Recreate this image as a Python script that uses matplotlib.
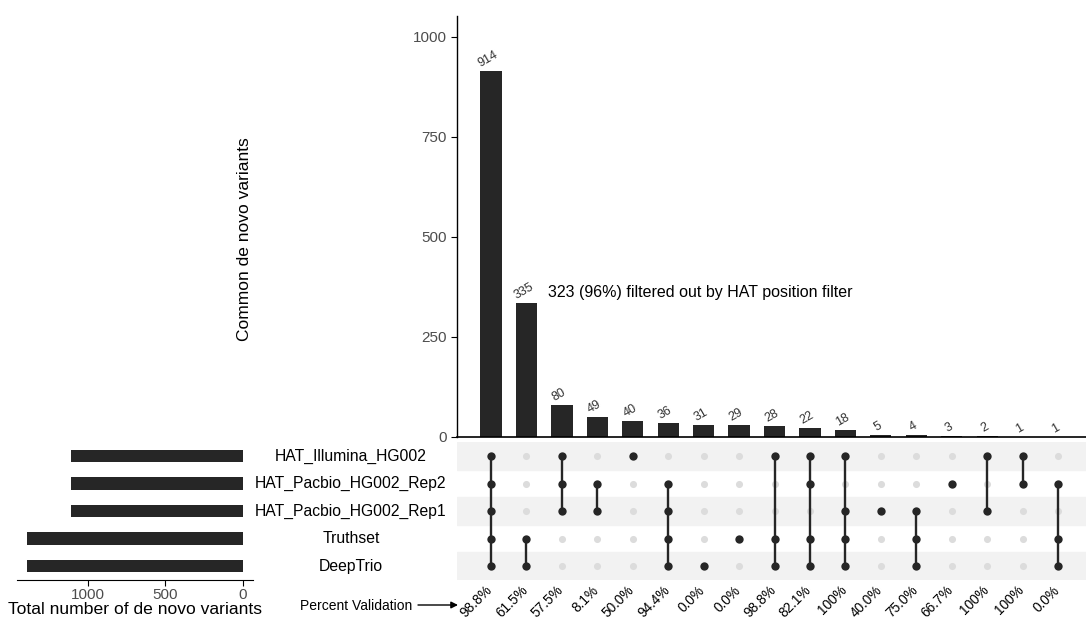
import numpy as np
import matplotlib
matplotlib.use('Agg')
import matplotlib.pyplot as plt
from matplotlib.transforms import blended_transform_factory

plt.rcParams['font.family'] = ['Liberation Sans', 'DejaVu Sans']

# data
set_names = ['HAT_Illumina_HG002', 'HAT_Pacbio_HG002_Rep2', 'HAT_Pacbio_HG002_Rep1',
             'Truthset', 'DeepTrio']
set_totals = [1105, 1106, 1108, 1387, 1389]

inter_counts = [914, 335, 80, 49, 40, 36, 31, 29, 28, 22, 18, 5, 4, 3, 2, 1, 1]
# which sets (row index in set_names) are in each intersection
inter_sets = [
    [0, 1, 2, 3, 4],
    [3, 4],
    [0, 1, 2],
    [1, 2],
    [0],
    [1, 2, 3, 4],
    [4],
    [3],
    [0, 3, 4],
    [0, 1, 3, 4],
    [0, 2, 3, 4],
    [2],
    [2, 3, 4],
    [1],
    [0, 2],
    [0, 1],
    [1, 3, 4],
]
pct_valid = ['98.8%', '61.5%', '57.5%', '8.1%', '50.0%', '94.4%', '0.0%', '0.0%',
             '98.8%', '82.1%', '100%', '40.0%', '75.0%', '66.7%', '100%', '100%', '0.0%']

dark = '#262626'
tickc = '#4d4d4d'
W, H = 1086, 620

fig = plt.figure(figsize=(W / 100, H / 100), dpi=100)

def box(x0, y0, x1, y1):
    # pixel box -> figure fraction [left, bottom, width, height]
    return [x0 / W, 1 - y1 / H, (x1 - x0) / W, (y1 - y0) / H]

ax_bar = fig.add_axes(box(457, 16, 1086, 437))
ax_mat = fig.add_axes(box(457, 442.25, 1086, 579.75))
ax_set = fig.add_axes(box(17, 442.25, 253, 579.75))

n_int = len(inter_counts)
xs = np.arange(n_int)
xlim = (-0.96, 16.79)

# intersection bars
ax_bar.bar(xs, inter_counts, width=0.6, color=dark)
ax_bar.set_xlim(*xlim)
ax_bar.set_ylim(0, 1052)
ax_bar.set_yticks([0, 250, 500, 750, 1000])
ax_bar.set_xticks([])
ax_bar.tick_params(axis='y', labelsize=11, labelcolor=tickc, length=4, color='black')
for s in ['top', 'right']:
    ax_bar.spines[s].set_visible(False)
ax_bar.spines['left'].set_linewidth(1.0)
ax_bar.spines['bottom'].set_linewidth(1.2)
ax_bar.set_ylabel('Common de novo variants', fontsize=12.5)
ax_bar.yaxis.set_label_coords(-0.326, 0.47)
for x, c in zip(xs, inter_counts):
    ax_bar.annotate(str(c), (x, c), xytext=(-2, 1), textcoords='offset points',
                    ha='center', va='bottom', rotation=30, fontsize=9, color='#333333')
ax_bar.text(1.6, 360, '323 (96%) filtered out by HAT position filter',
            fontsize=11.5, ha='left', va='center')

# matrix
n_sets = len(set_names)
ax_mat.set_xlim(*xlim)
ax_mat.set_ylim(n_sets - 0.5, -0.5)
ax_mat.axis('off')
for r in range(n_sets):
    if r % 2 == 0:
        ax_mat.axhspan(r - 0.5, r + 0.5, color='#f2f2f2', zorder=0)
for x in xs:
    ax_mat.scatter([x] * n_sets, range(n_sets), s=26, color='#dcdcdc', zorder=2,
                   linewidths=0)
for x, members in zip(xs, inter_sets):
    if len(members) > 1:
        ax_mat.plot([x, x], [min(members), max(members)], color=dark, lw=1.7, zorder=3)
    ax_mat.scatter([x] * len(members), members, s=36, color=dark, zorder=4,
                   linewidths=0)

# set names
trans = blended_transform_factory(fig.transFigure, ax_mat.transData)
for r, name in enumerate(set_names):
    ax_mat.text(351 / W, r, name, transform=trans, ha='center', va='center',
                fontsize=11.3)

# percent validation labels
trans_p = blended_transform_factory(ax_mat.transData, fig.transFigure)
for x, p in zip(xs, pct_valid):
    ax_mat.text(x + 0.12, 1 - 583 / H, p, transform=trans_p, rotation=45,
                ha='right', va='top', fontsize=9.8, color='black', clip_on=False)
fig.text(300 / W, 1 - 606 / H, 'Percent Validation', fontsize=10, ha='left', va='center')
fig.add_artist(matplotlib.patches.FancyArrowPatch(
    (418 / W, 1 - 605 / H), (458 / W, 1 - 605 / H), transform=fig.transFigure,
    arrowstyle='-|>', mutation_scale=10, color='black', lw=1, shrinkA=0, shrinkB=0))

# set sizes
ax_set.barh(range(n_sets), set_totals, height=0.45, color=dark)
ax_set.set_ylim(n_sets - 0.5, -0.5)
ax_set.set_xlim(1454, -64)
ax_set.set_xticks([1000, 500, 0])
ax_set.set_yticks([])
ax_set.tick_params(axis='x', labelsize=11, labelcolor=tickc, length=4, pad=2)
for s in ['top', 'right', 'left']:
    ax_set.spines[s].set_visible(False)
ax_set.set_xlabel('Total number of de novo variants', fontsize=12.6, labelpad=0)

plt.savefig('out.png', dpi=100)
